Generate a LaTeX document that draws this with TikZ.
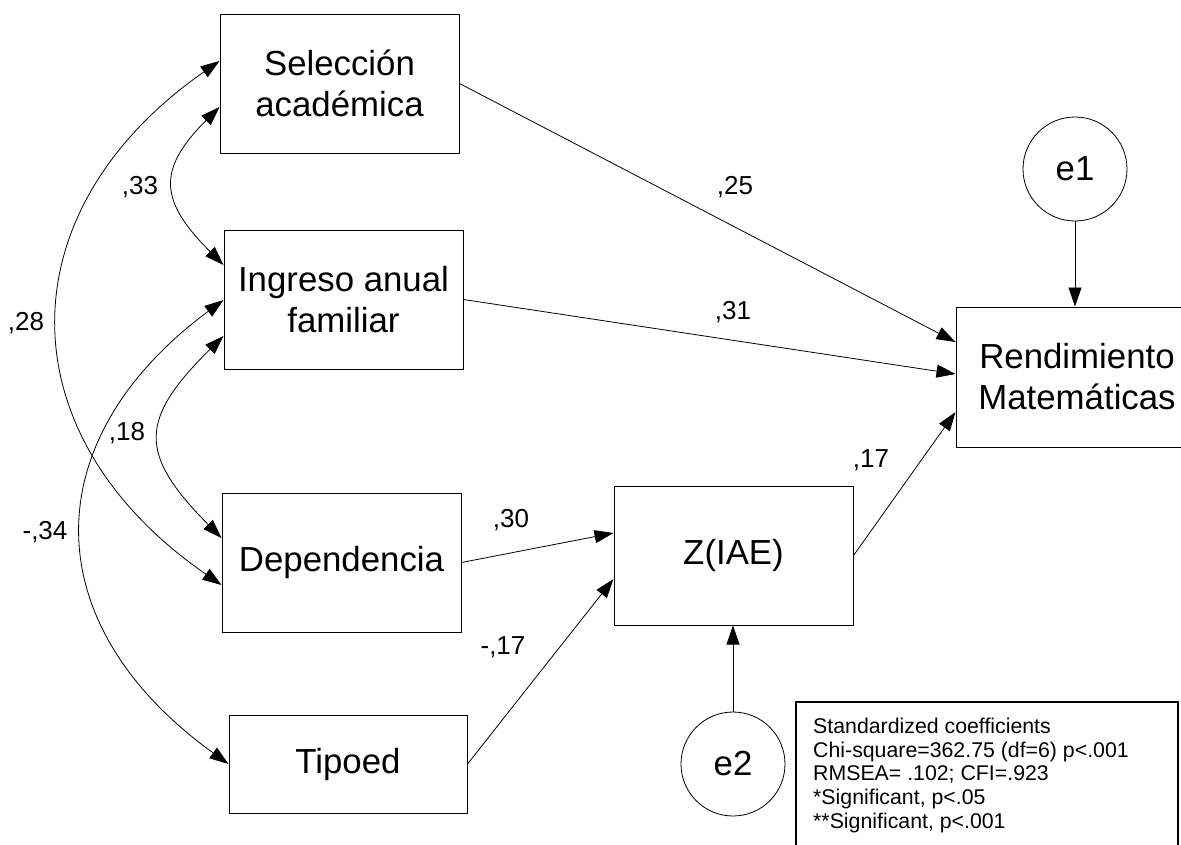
\documentclass[tikz,border=0pt]{standalone}
\usepackage{fontspec}
\setmainfont{Liberation Sans}
\usetikzlibrary{arrows.meta}
\begin{document}
\begin{tikzpicture}[x=1pt,y=-1pt,
  box/.style={draw, line width=1pt, minimum width=239pt, minimum height=139pt, align=center, inner sep=0pt, font=\fontsize{34.8}{41}\selectfont},
  err/.style={draw, circle, line width=0.8pt, minimum size=104pt, inner sep=0pt, font=\fontsize{34.8}{41}\selectfont},
  lbl/.style={font=\fontsize{26}{30}\selectfont, inner sep=0pt},
  arr/.style={-{Triangle[length=19pt,width=13pt]}, line width=0.8pt},
  cov/.style={{Triangle[length=19pt,width=13pt]}-{Triangle[length=19pt,width=13pt]}, line width=0.8pt}]
\useasboundingbox (0,0) rectangle (1181,844);

\node[box] (sel) at (339.5,83.5) {Selección\\académica};
\node[box] (ing) at (343.5,299.5) {Ingreso anual\\familiar};
\node[box] (dep) at (341.5,562.5) {Dependencia};
\node[box, minimum width=238pt, minimum height=98pt] (tip) at (348,764) {Tipoed};
\node[box] (z) at (733.5,555.5) {Z(IAE)};
\node[box, minimum width=242pt, minimum height=140pt] (rend) at (1077,377) {Rendimiento\\Matemáticas};
\node[err] (e1) at (1075,169) {e1};
\node[err] (e2) at (733,764) {e2};

\node[draw, line width=1.5pt, minimum width=382pt, minimum height=170pt, anchor=north west, inner sep=0pt] (leg) at (795,701) {};
\node[anchor=north west, inner sep=0pt, align=left, font=\fontsize{21.3}{23.6}\selectfont] (legtext) at (813,718)
  {Standardized coefficients\\Chi-square=362.75 (df=6) p<.001\\RMSEA= .102; CFI=.923\\*Significant, p<.05\\**Significant, p<.001};

% directed paths
\draw[arr] (sel.east) -- ([yshift=35pt]rend.west);
\draw[arr] (ing.east) -- ([yshift=3pt]rend.west);
\draw[arr] (dep.east) -- ([yshift=22.5pt]z.west);
\draw[arr] (tip.east) -- ([yshift=-23.5pt]z.west);
\draw[arr] (z.east) -- ([yshift=-35pt]rend.west);
\draw[arr] (e1.south) -- (e1.south |- rend.north);
\draw[arr] (e2.north) -- (e2.north |- z.south);

% covariances
\draw[cov] ([yshift=-23.5pt]sel.west) .. controls +(-63,63) and +(-64,-64) .. ([yshift=34.5pt]ing.west);
\draw[cov] ([yshift=22.5pt]sel.west) .. controls +(-215,150) and +(-217,-150) .. ([yshift=-22.5pt]dep.west);
\draw[cov] ([yshift=-36.5pt]ing.west) .. controls +(-85,84) and +(-83,-84) .. ([yshift=24.5pt]dep.west);
\draw[cov] ([yshift=-0.5pt]ing.west) .. controls +(-189,140) and +(-194,-140) .. (tip.west);

% labels
\node[lbl] (l33) at (140,187) {,33};
\node[lbl] (l28) at (26,323) {,28};
\node[lbl] (l18) at (127,433) {,18};
\node[lbl] (l34) at (45,532) {-,34};
\node[lbl] (l25) at (735,187) {,25};
\node[lbl] (l31) at (733,312) {,31};
\node[lbl] (l30) at (511,520) {,30};
\node[lbl] (lm17) at (503,647) {-,17};
\node[lbl] (l17) at (871,460) {,17};
\end{tikzpicture}
\end{document}
